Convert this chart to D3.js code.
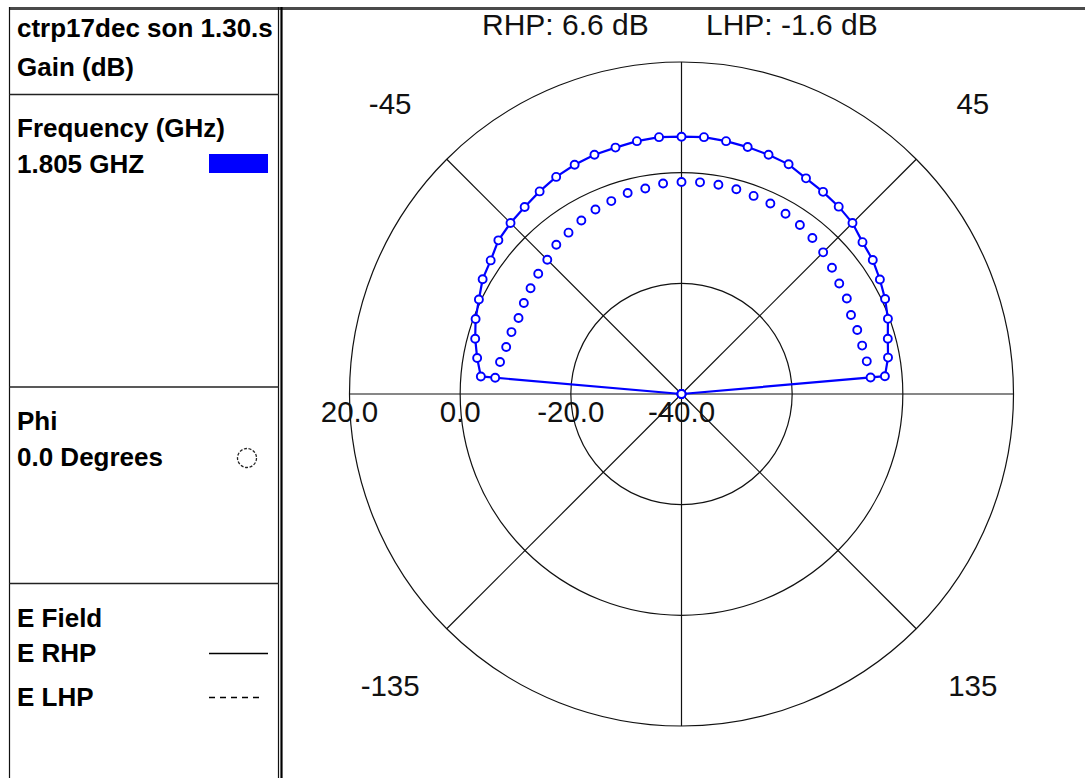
<!DOCTYPE html>
<html>
<head>
<meta charset="utf-8">
<script src="https://cdn.jsdelivr.net/npm/d3@7"></script>
<style>
  html, body { margin: 0; padding: 0; background: #fff; }
  svg { display: block; }
</style>
</head>
<body>
<svg id="chart" width="1085" height="778"></svg>
<script>
// Elevation cut, theta in degrees (0 = broadside, top of the plot)
const thetaDeg = d3.range(-90, 91, 5);

// Right-hand polarised gain, dB
const rhpGain = [-40, -3.6, -2.5, -1.4, -0.4, 0.4, 1.5, 2.1, 3.2, 3.7, 4.1, 4.7, 5.3,
  5.7, 6.0, 6.1, 6.4, 6.6, 6.5, 6.6, 6.4, 6.2, 6.0, 5.8, 5.0, 4.6, 4.2, 3.7, 2.7,
  2.2, 1.4, 0.6, -0.3, -1.4, -2.1, -3.1, -40];

// Left-hand polarised gain, dB
const lhpGain = [-40, -6.2, -6.7, -7.2, -7.3, -7.5, -7.1, -6.7, -6.2, -5.7, -4.8, -4.4,
  -3.8, -3.2, -2.9, -2.4, -2.3, -1.8, -1.7, -1.6, -1.6, -1.7, -1.9, -2.0, -2.4, -2.7,
  -3.2, -3.8, -4.5, -5.2, -5.5, -6.2, -6.2, -6.2, -6.0, -5.7, -40];

// Grid rings and their labels (dB)
const ringValues = [-20, 0, 20];
const ringLabels = [20, 0, -20, -40];
const spokeAngles = [0, 45, 90, 135, 180, 225, 270, 315];
const angleLabels = [-45, 45, -135, 135];

// Side panel contents
const fileName = "ctrp17dec son 1.30.s";
const quantity = "Gain (dB)";
const freqHeading = "Frequency (GHz)";
const freqValue = "1.805 GHZ";
const phiHeading = "Phi";
const phiValue = "0.0 Degrees";
const fieldHeading = "E Field";
const fieldNames = ["E RHP", "E LHP"];

const blue = "#0000ff";
const svg = d3.select("#chart");

const cx = 681.5, cy = 394;
const r = d3.scaleLinear().domain([-40, 20]).range([0, 332]);
const toRad = d => d * Math.PI / 180;
const pt = (deg, rad) => [cx + rad * Math.sin(toRad(deg)), cy - rad * Math.cos(toRad(deg))];
// one decimal, plain hyphen for negatives
const fmt = v => v.toFixed(1);

// ---- frame ----
svg.append("line").attr("x1", 9).attr("x2", 1085).attr("y1", 8.5).attr("y2", 8.5)
  .attr("stroke", "#4a4a4a").attr("stroke-width", 3);
svg.append("line").attr("x1", 9.5).attr("x2", 9.5).attr("y1", 7).attr("y2", 778)
  .attr("stroke", "#111").attr("stroke-width", 1.2);
svg.append("line").attr("x1", 278.5).attr("x2", 278.5).attr("y1", 7).attr("y2", 778)
  .attr("stroke", "#111").attr("stroke-width", 1.2);
svg.append("line").attr("x1", 281.5).attr("x2", 281.5).attr("y1", 7).attr("y2", 778)
  .attr("stroke", "#000").attr("stroke-width", 2.2);
[94.5, 387, 583.5].forEach(y => {
  svg.append("line").attr("x1", 9).attr("x2", 279).attr("y1", y).attr("y2", y)
    .attr("stroke", "#222").attr("stroke-width", 1.3);
});

// ---- side panel text ----
svg.append("clipPath").attr("id", "panelClip")
  .append("rect").attr("x", 10).attr("y", 10).attr("width", 268).attr("height", 770);
const panel = svg.append("g").attr("clip-path", "url(#panelClip)")
  .attr("font-family", "'Liberation Sans', Arial, sans-serif")
  .attr("font-weight", "bold").attr("font-size", 26).attr("fill", "#000");
const panelText = [
  [fileName, 36.5], [quantity, 76], [freqHeading, 137], [freqValue, 173],
  [phiHeading, 430], [phiValue, 466], [fieldHeading, 627],
  [fieldNames[0], 662], [fieldNames[1], 706]
];
panel.selectAll("text").data(panelText).join("text")
  .attr("x", 17).attr("y", d => d[1]).text(d => d[0]);

// legend swatches
svg.append("rect").attr("x", 209).attr("y", 154).attr("width", 59).attr("height", 19).attr("fill", blue);
svg.append("circle").attr("cx", 247).attr("cy", 458).attr("r", 9.5)
  .attr("fill", "none").attr("stroke", "#222").attr("stroke-width", 1.3)
  .attr("stroke-dasharray", "3,1.6");
svg.append("line").attr("x1", 209).attr("x2", 268).attr("y1", 653.5).attr("y2", 653.5)
  .attr("stroke", "#000").attr("stroke-width", 1.5);
svg.append("line").attr("x1", 209).attr("x2", 263).attr("y1", 697.5).attr("y2", 697.5)
  .attr("stroke", "#000").attr("stroke-width", 1.5).attr("stroke-dasharray", "6,5");

// ---- polar grid ----
const grid = svg.append("g").attr("stroke", "#111").attr("stroke-width", 1.2).attr("fill", "none");
grid.selectAll("circle").data(ringValues).join("circle")
  .attr("cx", cx).attr("cy", cy).attr("r", d => r(d));
grid.selectAll("line").data(spokeAngles).join("line")
  .attr("x1", cx).attr("y1", cy)
  .attr("x2", d => pt(d, r(20))[0]).attr("y2", d => pt(d, r(20))[1]);

const labelFont = "'Liberation Sans', Arial, sans-serif";
svg.append("g").selectAll("text").data(ringLabels).join("text")
  .attr("x", d => cx - r(d)).attr("y", 422)
  .attr("text-anchor", "middle").attr("font-family", labelFont).attr("font-size", 29.5)
  .attr("fill", "#111").text(d => fmt(d));

svg.append("g").selectAll("text").data(angleLabels).join("text")
  .attr("x", d => pt(d, 412)[0]).attr("y", d => pt(d, 412)[1] + 11)
  .attr("text-anchor", "middle").attr("font-family", labelFont).attr("font-size", 29.5)
  .attr("fill", "#111").text(d => d);

// ---- peak gain heading ----
svg.append("text").attr("x", 482).attr("y", 35).attr("font-family", labelFont)
  .attr("font-size", 30).attr("fill", "#111").text(`RHP: ${fmt(d3.max(rhpGain))} dB`);
svg.append("text").attr("x", 706).attr("y", 35).attr("font-family", labelFont)
  .attr("font-size", 30).attr("fill", "#111").text(`LHP: ${fmt(d3.max(lhpGain))} dB`);

// ---- pattern traces ----
const rhp = thetaDeg.map((t, i) => ({ t, g: rhpGain[i] }));
const lhp = thetaDeg.map((t, i) => ({ t, g: lhpGain[i] }));

const radial = d3.lineRadial().angle(d => toRad(d.t)).radius(d => r(Math.max(-40, d.g)));
const plot = svg.append("g").attr("transform", `translate(${cx},${cy})`);

plot.append("path").datum(rhp).attr("d", radial)
  .attr("fill", "none").attr("stroke", blue).attr("stroke-width", 2.2);

const markers = (data) => plot.append("g").selectAll("circle").data(data).join("circle")
  .attr("cx", d => r(Math.max(-40, d.g)) * Math.sin(toRad(d.t)))
  .attr("cy", d => -r(Math.max(-40, d.g)) * Math.cos(toRad(d.t)))
  .attr("r", 4).attr("fill", "#fff").attr("stroke", blue).attr("stroke-width", 1.9);
markers(lhp);
markers(rhp);
</script>
</body>
</html>
